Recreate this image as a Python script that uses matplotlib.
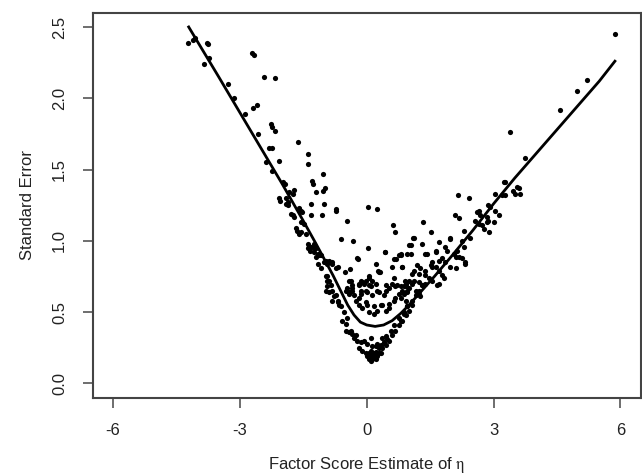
import numpy as np
import matplotlib.pyplot as plt

plt.rcParams['font.family'] = ['Liberation Sans', 'DejaVu Sans']
plt.rcParams['mathtext.fontset'] = 'stix'

# factor score estimates vs standard error (x, se)
pts_upper_left = [
    (-4.23, 2.39), (-4.11, 2.41), (-4.05, 2.42), (-3.78, 2.39), (-3.75, 2.38), (-3.72, 2.28),
    (-3.84, 2.24), (-2.71, 2.32), (-2.66, 2.30), (-2.42, 2.15), (-2.16, 2.14), (-3.27, 2.10),
    (-3.13, 2.00), (-2.68, 1.93), (-2.60, 1.95), (-2.87, 1.89), (-2.26, 1.82), (-2.23, 1.80),
    (-2.16, 1.77), (-2.56, 1.75), (-1.62, 1.69), (-2.32, 1.65), (-2.24, 1.65), (-1.40, 1.61),
    (-2.37, 1.55), (-2.08, 1.56), (-1.40, 1.54), (-2.23, 1.49), (-1.03, 1.47), (-1.99, 1.41),
    (-1.93, 1.40), (-1.30, 1.42), (-1.27, 1.40), (-0.99, 1.37), (-1.03, 1.35), (-1.71, 1.36),
    (-1.83, 1.34), (-1.20, 1.34), (-2.07, 1.30), (-2.04, 1.28), (-1.90, 1.30), (-1.85, 1.27),
    (-1.32, 1.26), (-1.01, 1.26), (-0.73, 1.21), (-1.05, 1.18), (-1.32, 1.18), (-1.75, 1.33),
    (-1.91, 1.26), (-1.87, 1.25), (-1.79, 1.19), (-1.75, 1.18), (-1.71, 1.17), (-1.67, 1.09),
    (-1.64, 1.07), (-1.60, 1.05), (-1.56, 1.21), (-1.56, 1.13), (-1.48, 1.12), (-1.44, 1.05),
    (-1.36, 0.96), (-1.24, 0.95), (-1.60, 1.23), (-1.52, 1.20), (-1.56, 1.06),
]

pts_middle = [
    (-0.72, 1.22), (0.04, 1.24), (0.24, 1.22), (-0.46, 1.14), (0.62, 1.11), (0.68, 1.06),
    (-0.60, 1.01), (-0.32, 1.00), (0.03, 0.95), (0.43, 0.92), (0.80, 0.90), (0.96, 0.91),
    (-0.21, 0.87), (0.70, 0.87), (0.59, 0.82), (0.84, 0.82), (0.27, 0.79), (0.31, 0.78),
    (-0.39, 0.80), (-0.51, 0.78), (-0.67, 0.82), (-0.73, 0.81), (-0.89, 0.86), (-0.83, 0.85),
    (-0.93, 0.75), (-0.89, 0.72), (-1.38, 0.95), (-1.34, 0.93), (-1.24, 0.92), (-1.16, 0.91),
    (-1.12, 0.90), (-1.24, 0.98), (-1.20, 0.95), (-0.97, 0.86), (-0.81, 0.84), (-0.85, 0.69),
    (-0.97, 0.65), (-0.89, 0.64), (-0.50, 0.65), (-0.42, 0.64), (-0.34, 0.65), (-0.38, 0.72),
    (-0.34, 0.69), (-0.18, 0.70), (-0.10, 0.71), (-0.02, 0.72), (0.05, 0.75), (0.13, 0.72),
    (0.21, 0.70), (-0.14, 0.65), (0.01, 0.64), (0.29, 0.64), (0.45, 0.65), (0.53, 0.67),
    (0.60, 0.70), (0.72, 0.69), (0.80, 0.68), (0.90, 0.72), (0.96, 0.65), (0.64, 0.74),
    (-1.40, 0.98), (-1.32, 0.96), (-1.20, 0.89), (-1.08, 0.90), (-1.01, 0.85), (-0.93, 0.84),
    (-1.16, 0.84), (-1.08, 0.81), (-0.97, 0.75), (-0.93, 0.72), (-0.81, 0.65), (-0.73, 0.62),
    (-0.69, 0.58), (-0.65, 0.55), (-0.22, 0.88),
    (-0.26, 0.58), (-0.18, 0.55), (-0.10, 0.53), (0.01, 0.55), (0.05, 0.50), (0.17, 0.49),
    (0.25, 0.51), (0.33, 0.55), (0.45, 0.51), (0.53, 0.56), (0.64, 0.58), (0.76, 0.63),
    (-0.14, 0.63), (-0.02, 0.65), (0.13, 0.62), (0.25, 0.65), (0.41, 0.62), (-0.42, 0.63),
    (-0.34, 0.67), (-0.18, 0.69), (0.05, 0.69), (0.45, 0.69), (0.68, 0.68), (0.88, 0.68),
    (0.96, 0.64), (-0.30, 0.62), (-0.18, 0.60), (-0.02, 0.57), (0.17, 0.54), (0.37, 0.55),
    (0.53, 0.53), (0.68, 0.60), (0.84, 0.65), (1.00, 0.67), (0.92, 0.70), (1.12, 0.72),
    (1.23, 0.77), (1.39, 0.79), (1.55, 0.82), (-0.14, 0.72), (-0.06, 0.70), (0.05, 0.74),
    (0.09, 0.68), (-0.42, 0.72), (-0.46, 0.67), (0.23, 0.84), (0.29, 0.78),
]

pts_lower = [
    (-0.38, 0.37), (-0.34, 0.35), (-0.26, 0.34), (-0.22, 0.30), (-0.14, 0.29), (-0.18, 0.25),
    (-0.10, 0.23), (-0.02, 0.21), (0.05, 0.19), (0.09, 0.16), (0.17, 0.18), (0.25, 0.19),
    (0.33, 0.21), (0.37, 0.25), (0.45, 0.27), (0.53, 0.30), (0.60, 0.34), (0.68, 0.37),
    (0.76, 0.41), (0.84, 0.44), (0.92, 0.48), (1.00, 0.51), (1.08, 0.55), (0.01, 0.28),
    (0.13, 0.26), (0.21, 0.22), (0.29, 0.25), (0.25, 0.28), (-0.06, 0.30), (0.09, 0.32),
    (0.01, 0.19), (0.13, 0.20), (0.37, 0.32), (0.45, 0.33), (0.57, 0.37), (0.64, 0.41),
    (0.76, 0.46), (0.88, 0.50), (0.96, 0.54), (1.08, 0.58), (1.16, 0.62), (1.23, 0.65),
    (1.31, 0.69), (-0.50, 0.42), (-0.46, 0.46), (-0.54, 0.50), (-0.61, 0.54), (-0.69, 0.57),
    (-0.77, 0.61), (-0.93, 0.68), (-0.50, 0.37), (-0.42, 0.36), (-0.30, 0.32), (0.05, 0.21),
    (-0.58, 0.44), (-0.81, 0.58), (0.05, 0.17), (0.13, 0.17), (0.21, 0.17), (0.17, 0.21),
    (0.09, 0.23), (0.29, 0.21), (0.21, 0.26), (0.33, 0.27), (0.41, 0.29), (0.49, 0.31),
    (0.15, 0.19), (0.19, 0.19), (0.11, 0.18), (0.23, 0.20),
]

pts_right = [
    (1.00, 0.97), (1.12, 1.02), (1.31, 0.98), (1.43, 0.91), (1.63, 0.92), (1.71, 0.99),
    (1.98, 1.01), (1.86, 0.96), (0.64, 0.87), (0.43, 0.92), (0.76, 0.90), (2.10, 0.89),
    (2.25, 0.88), (2.33, 0.84), (2.14, 0.93),
    (3.26, 1.41), (3.55, 1.38), (3.59, 1.37), (3.47, 1.35), (3.63, 1.33), (3.51, 1.33),
    (3.04, 1.33), (3.20, 1.32), (3.28, 1.32), (2.16, 1.32), (2.41, 1.30), (2.88, 1.25),
    (2.92, 1.24), (2.65, 1.21), (2.61, 1.20), (2.69, 1.18), (3.04, 1.21), (3.12, 1.18),
    (2.08, 1.18), (2.18, 1.16), (2.85, 1.17), (2.88, 1.14), (2.85, 1.13), (3.00, 1.13),
    (2.57, 1.14), (2.65, 1.12), (2.73, 1.11), (2.77, 1.08), (2.90, 1.06), (2.29, 1.07),
    (1.33, 1.13), (1.52, 1.06), (1.09, 1.02), (1.04, 0.97), (1.96, 1.02), (2.25, 1.00),
    (2.29, 0.96), (2.45, 1.02), (0.82, 0.91), (1.04, 0.91), (1.39, 0.91), (1.63, 0.93),
    (1.90, 0.93), (2.06, 0.91), (2.18, 0.89), (2.33, 0.85), (1.71, 0.86), (1.78, 0.88),
    (1.86, 0.85), (1.98, 0.82), (2.10, 0.81), (1.55, 0.85), (1.51, 0.83), (1.63, 0.82),
    (1.71, 0.79), (1.19, 0.83), (1.27, 0.81), (1.12, 0.79), (1.08, 0.77), (0.84, 0.82),
    (1.78, 0.76), (1.82, 0.74), (1.39, 0.76), (1.47, 0.74), (1.55, 0.72), (1.23, 0.71),
    (1.31, 0.69), (1.39, 0.70), (1.67, 0.69), (1.71, 0.70), (1.00, 0.72), (1.08, 0.70),
    (0.92, 0.68), (1.16, 0.65), (1.23, 0.63), (1.27, 0.61), (0.88, 0.63), (0.80, 0.60),
    (0.92, 0.58), (0.96, 0.54), (0.88, 0.49), (0.80, 0.44),
    (5.87, 2.45), (5.22, 2.13), (4.98, 2.05), (4.56, 1.92), (3.40, 1.76), (3.75, 1.58),
    (3.25, 1.41),
]

# smooth curve through the scatter
curve_x = [-4.21, -3.5, -3.0, -2.5, -2.0, -1.5, -1.2, -1.0, -0.8, -0.6, -0.45, -0.3, -0.15,
           0.0, 0.2, 0.4, 0.6, 0.8, 1.0, 1.3, 1.6, 2.0, 2.5, 3.0, 3.5, 4.0, 4.5, 5.0, 5.5, 5.87]
curve_y = [2.50, 2.15, 1.90, 1.65, 1.40, 1.14, 0.98, 0.87, 0.76, 0.64, 0.55, 0.48, 0.43,
           0.41, 0.40, 0.41, 0.44, 0.49, 0.55, 0.65, 0.75, 0.89, 1.07, 1.26, 1.44, 1.61,
           1.78, 1.95, 2.12, 2.26]

x_ticks = [-6, -3, 0, 3, 6]
y_ticks = [0.0, 0.5, 1.0, 1.5, 2.0, 2.5]

pts = np.array(pts_upper_left + pts_middle + pts_lower + pts_right)

fig = plt.figure(figsize=(6.42, 4.76), dpi=100)
ax = fig.add_axes([0.1444, 0.1645, 0.8536, 0.8088])

ax.scatter(pts[:, 0], pts[:, 1], s=14, color='black', linewidths=0)
ax.plot(curve_x, curve_y, color='black', lw=2.0)

ax.set_xlim(-6.48, 6.48)
ax.set_ylim(-0.1, 2.6)
ax.set_xticks(x_ticks)
ax.set_xticklabels([str(t) for t in x_ticks])
ax.set_yticks(y_ticks)
ax.set_yticklabels([f'{t:.1f}' for t in y_ticks], rotation=90, va='center')

for sp in ax.spines.values():
    sp.set_linewidth(1.5)
    sp.set_color('#444444')
ax.tick_params(direction='out', length=7.5, width=1.2, color='#555555',
               labelsize=12, labelcolor='#222222', pad=11)

ax.set_xlabel('Factor Score Estimate of $\\mathrm{\\eta}$', fontsize=12,
              color='#222222', labelpad=12)
ax.set_ylabel('Standard Error', fontsize=12, color='#222222', labelpad=12)

fig.savefig('out.png', dpi=100)
